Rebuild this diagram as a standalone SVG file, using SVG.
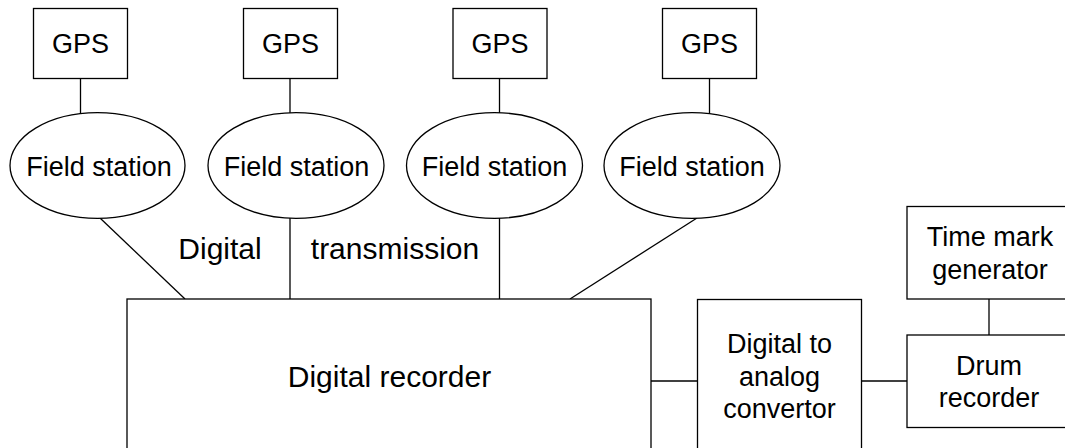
<svg xmlns="http://www.w3.org/2000/svg" width="1065" height="448" viewBox="0 0 1065 448">
<style>
.box{fill:#fff;stroke:#000;stroke-width:1.3}
.ln{stroke:#000;stroke-width:1.3;fill:none}
.t{font-family:"Liberation Sans",Arial,sans-serif;font-size:27px;fill:#000;text-anchor:middle}
.tl{font-family:"Liberation Sans",Arial,sans-serif;font-size:30px;fill:#000;text-anchor:middle}
</style>
<rect width="1065" height="448" fill="#fff"/>
<g id="connectors">
<line class="ln" x1="80.5" y1="78" x2="80.5" y2="114"/>
<line class="ln" x1="290" y1="78" x2="290" y2="113"/>
<line class="ln" x1="499.5" y1="78" x2="499.5" y2="113"/>
<line class="ln" x1="709.5" y1="78" x2="709.5" y2="114"/>
<line class="ln" x1="100" y1="218" x2="185" y2="299"/>
<line class="ln" x1="290" y1="218" x2="290" y2="299"/>
<line class="ln" x1="499.5" y1="218" x2="499.5" y2="299"/>
<line class="ln" x1="697" y1="218" x2="570" y2="299"/>
<line class="ln" x1="651" y1="381" x2="697.5" y2="381"/>
<line class="ln" x1="861.5" y1="381" x2="907" y2="381"/>
<line class="ln" x1="989" y1="299" x2="989" y2="335"/>
</g>
<g id="gps1"><rect class="box" x="33.5" y="8.5" width="94" height="70"/><text class="t" x="80.5" y="53">GPS</text></g>
<g id="gps2"><rect class="box" x="243.5" y="8.5" width="94" height="70"/><text class="t" x="290.5" y="53">GPS</text></g>
<g id="gps3"><rect class="box" x="453" y="8.5" width="94" height="70"/><text class="t" x="500" y="53">GPS</text></g>
<g id="gps4"><rect class="box" x="662.5" y="8.5" width="94" height="70"/><text class="t" x="709.5" y="53">GPS</text></g>
<g id="field1"><ellipse class="box" cx="97.5" cy="165.5" rx="87.5" ry="52.8"/><text class="t" x="99" y="176">Field station</text></g>
<g id="field2"><ellipse class="box" cx="296" cy="165.5" rx="88" ry="52.8"/><text class="t" x="296.5" y="176">Field station</text></g>
<g id="field3"><ellipse class="box" cx="494.5" cy="165.5" rx="88" ry="52.8"/><text class="t" x="494.5" y="176">Field station</text></g>
<g id="field4"><ellipse class="box" cx="692" cy="165.5" rx="88" ry="52.8"/><text class="t" x="692" y="176">Field station</text></g>
<g id="labels">
<text class="tl" x="220" y="259">Digital</text>
<text class="tl" x="395" y="259">transmission</text>
</g>
<g id="recorder"><rect class="box" x="127" y="299" width="524" height="160"/><text class="tl" x="389.5" y="387">Digital recorder</text></g>
<g id="dac"><rect class="box" x="697.5" y="299.5" width="164" height="160"/>
<text class="t" x="779.5" y="353">Digital to</text><text class="t" x="779.5" y="385.5">analog</text><text class="t" x="779.5" y="418">convertor</text></g>
<g id="timemark"><rect class="box" x="907" y="206.5" width="166" height="92.5"/>
<text class="t" x="990" y="246">Time mark</text><text class="t" x="990" y="278.5">generator</text></g>
<g id="drum"><rect class="box" x="907" y="335" width="166" height="92.5"/>
<text class="t" x="989" y="375">Drum</text><text class="t" x="989" y="407">recorder</text></g>
</svg>
